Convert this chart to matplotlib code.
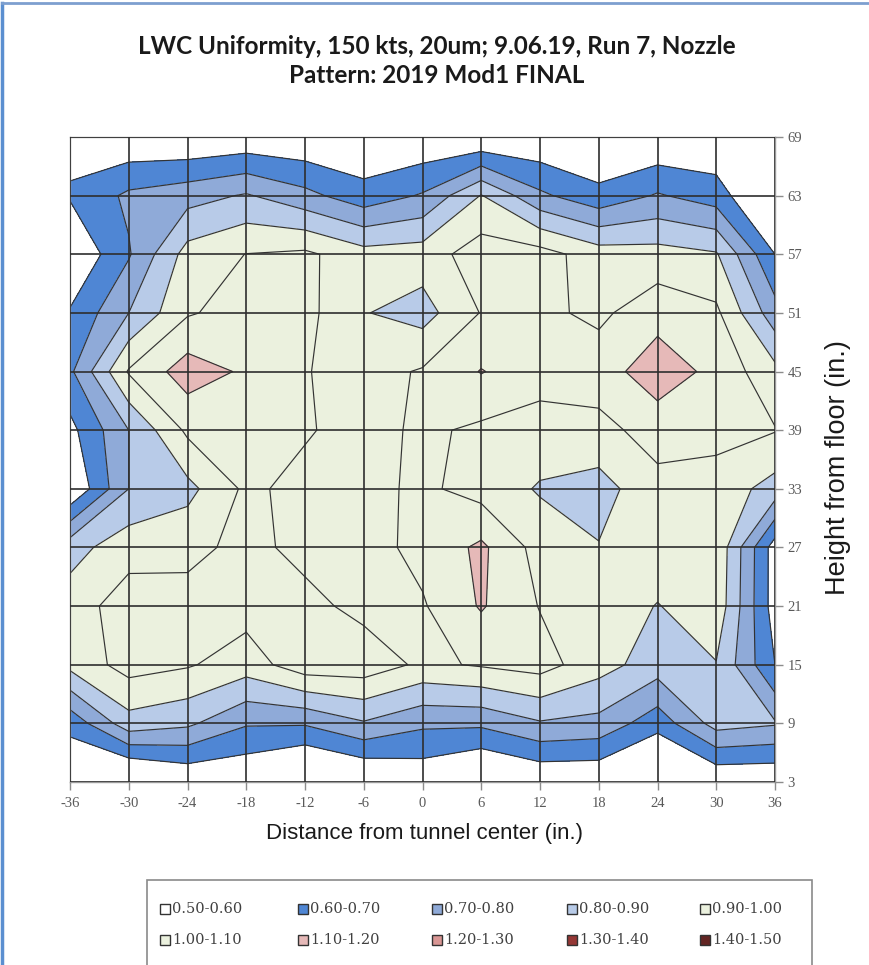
import numpy as np
import matplotlib
matplotlib.use('Agg')
import matplotlib.pyplot as plt
from matplotlib.colors import ListedColormap
from matplotlib.patches import Rectangle
from matplotlib.lines import Line2D

plt.rcParams['axes.unicode_minus'] = False

# survey grid (in.)
x_in = [-36, -30, -24, -18, -12, -6, 0, 6, 12, 18, 24, 30, 36]
y_in = [3, 9, 15, 21, 27, 33, 39, 45, 51, 57, 63, 69]

# LWC ratio, one row per height, bottom to top
lwc_y3 = [0.50, 0.42, 0.50, 0.50, 0.41, 0.47, 0.52, 0.44, 0.50, 0.50, 0.40, 0.50, 0.50]
lwc_y9 = [0.63, 0.86, 0.82, 0.71, 0.71, 0.79, 0.72, 0.72, 0.79, 0.77, 0.64, 0.84, 0.81]
lwc_y15 = [0.93, 1.04, 1.01, 0.95, 1.06, 1.06, 0.98, 1.01, 1.04, 0.94, 0.85, 0.895, 0.60]
lwc_y21 = [0.95, 1.05, 1.04, 1.04, 1.03, 0.97, 0.99, 1.11, 0.995, 0.97, 0.895, 0.97, 0.55]
lwc_y27 = [0.86, 0.96, 0.97, 1.03, 0.97, 0.96, 1.03, 1.12, 0.96, 0.905, 0.97, 0.98, 0.55]
lwc_y33 = [0.50, 0.80, 0.87, 1.02, 0.97, 0.97, 1.02, 0.96, 0.89, 0.86, 0.97, 0.96, 0.86]
lwc_y39 = [0.57, 0.80, 1.02, 1.05, 1.01, 0.96, 1.02, 0.98, 0.96, 0.97, 1.04, 1.03, 1.005]
lwc_y45 = [0.68, 1.01, 1.15, 1.085, 1.005, 0.96, 1.01, 1.105, 1.04, 1.05, 1.16, 1.07, 0.93]
lwc_y51 = [0.61, 0.80, 0.99, 1.04, 1.03, 0.905, 0.86, 1.005, 1.02, 0.98, 1.06, 1.02, 0.74]
lwc_y57 = [0.50, 0.69, 0.94, 1.002, 1.02, 0.94, 0.95, 1.05, 1.04, 0.95, 0.94, 0.91, 0.60]
lwc_y63 = [0.61, 0.72, 0.76, 0.81, 0.73, 0.64, 0.71, 0.905, 0.72, 0.63, 0.71, 0.65, 0.45]
lwc_y69 = [0.57, 0.51, 0.50, 0.52, 0.51, 0.50, 0.51, 0.50, 0.51, 0.49, 0.50, 0.51, 0.40]

levels = [0.5, 0.6, 0.7, 0.8, 0.9, 1.0, 1.1, 1.2, 1.3, 1.4, 1.5]
band_labels = ['0.50-0.60', '0.60-0.70', '0.70-0.80', '0.80-0.90', '0.90-1.00',
               '1.00-1.10', '1.10-1.20', '1.20-1.30', '1.30-1.40', '1.40-1.50']
band_colors = ['#ffffff', '#4f86d4', '#8faad8', '#b8cbe8', '#ebf1de',
               '#ebf1de', '#e6b9b8', '#d99694', '#953735', '#632523']

Z = np.array([lwc_y3, lwc_y9, lwc_y15, lwc_y21, lwc_y27, lwc_y33,
              lwc_y39, lwc_y45, lwc_y51, lwc_y57, lwc_y63, lwc_y69])

W, H = 869, 965
fig = plt.figure(figsize=(W / 100, H / 100), dpi=100)

def fx(px):
    return px / W

def fy(py):
    return 1 - py / H

ax = fig.add_axes([fx(70), fy(782), fx(705), 645 / H])

cmap = ListedColormap(band_colors)
cmap.set_under('#ffffff')
cmap.set_over(band_colors[-1])
ax.contourf(x_in, y_in, Z, levels=levels, cmap=cmap, extend='both')
ax.contour(x_in, y_in, Z, levels=levels[1:-1], colors='#333333', linewidths=0.85)

ax.set_xlim(-36, 36)
ax.set_ylim(3, 69)
ax.set_xticks(x_in)
ax.set_yticks(y_in)
ax.set_axisbelow(False)
ax.grid(True, color='#2e2e2e', linewidth=1.2)

ax.yaxis.tick_right()
ax.tick_params(axis='both', direction='out', length=6, width=1, color='#8c8c8c',
               labelsize=10.5, labelcolor='#595959')
ax.tick_params(axis='y', pad=3)
ax.tick_params(axis='x', pad=5)
for lab in ax.get_xticklabels() + ax.get_yticklabels():
    lab.set_family('Liberation Serif')
for s in ax.spines.values():
    s.set_color('#9a9a9a')
    s.set_linewidth(1)

# titles and axis names
fig.text(fx(437), fy(61), 'LWC Uniformity, 150 kts, 20um; 9.06.19, Run 7, Nozzle\nPattern: 2019 Mod1 FINAL',
         ha='center', va='center', fontsize=17.5, fontweight='bold', family='Lato',
         linespacing=1.3, color='#1a1a1a')
fig.text(fx(425), fy(834), 'Distance from tunnel center (in.)', ha='center', va='center',
         fontsize=16, family='Liberation Sans', color='#1a1a1a')
fig.text(fx(838), fy(468), 'Height from floor (in.)', ha='center', va='center',
         rotation=90, fontsize=19.5, family='Liberation Sans', color='#1a1a1a')

# legend box
fig.patches.append(Rectangle((fx(147), fy(990)), fx(665), 110 / H, transform=fig.transFigure,
                             facecolor='white', edgecolor='#8a8a8a', linewidth=1.2))
col_px = [160, 298, 432, 567, 700]
row_px = [909, 940]
for i, (lab, col) in enumerate(zip(band_labels, band_colors)):
    cx = col_px[i % 5]
    cy = row_px[i // 5]
    fig.patches.append(Rectangle((fx(cx), fy(cy + 5)), 10 / W, 10 / H, transform=fig.transFigure,
                                 facecolor=col, edgecolor='#333333', linewidth=1))
    fig.text(fx(cx + 12), fy(cy), lab, ha='left', va='center', fontsize=10.5,
             family='DejaVu Serif', color='#404040')

# frame edges
fig.add_artist(Line2D([fx(2), fx(2)], [0, fy(3)], transform=fig.transFigure, color='#5b8fd0', lw=2.5))
fig.add_artist(Line2D([fx(2), 1], [fy(3), fy(3)], transform=fig.transFigure, color='#7d9fcf', lw=2))

fig.savefig('out.png', dpi=100)
